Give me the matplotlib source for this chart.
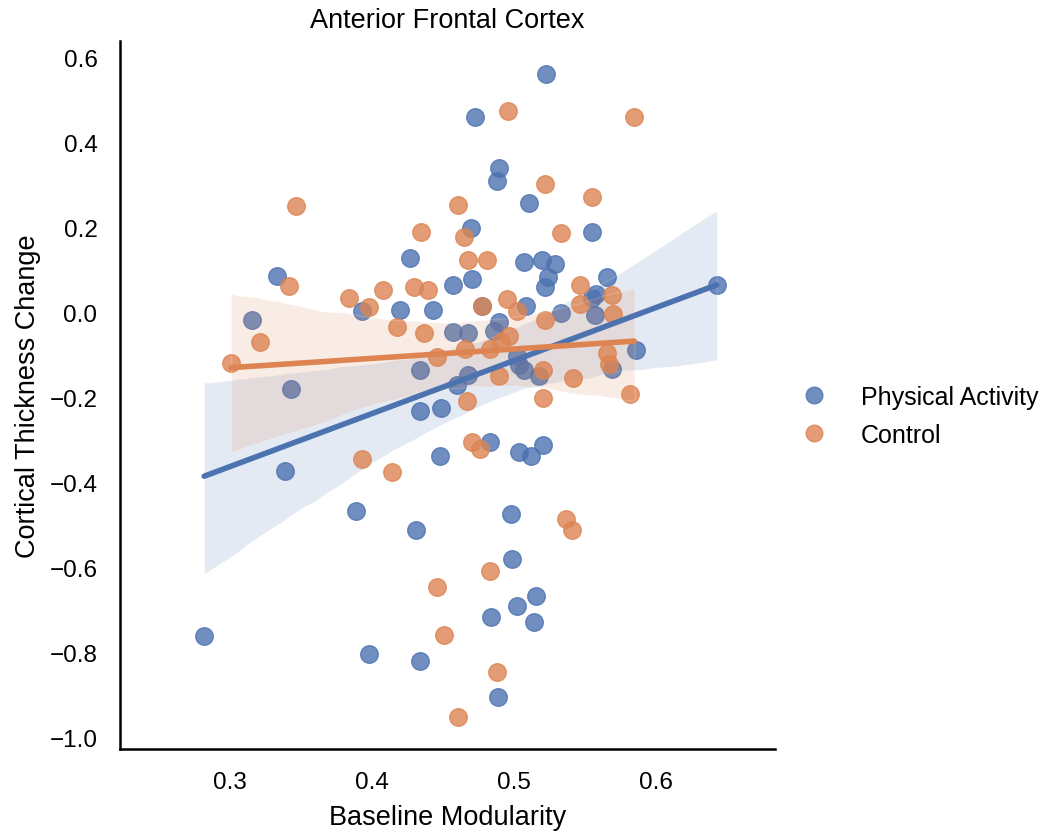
import numpy as np
import pandas as pd
import seaborn as sns
import matplotlib
matplotlib.use("Agg")
import matplotlib.pyplot as plt

# values
pa_x = [0.282, 0.333, 0.316, 0.343, 0.339, 0.389, 0.398, 0.393, 0.420, 0.427,
        0.443, 0.434, 0.434, 0.431, 0.434, 0.449, 0.448, 0.457, 0.457, 0.460,
        0.468, 0.468, 0.470, 0.471, 0.473, 0.478, 0.483, 0.486, 0.490, 0.488,
        0.490, 0.484, 0.489, 0.498, 0.499, 0.502, 0.504, 0.502, 0.504, 0.507,
        0.507, 0.509, 0.511, 0.512, 0.514, 0.516, 0.521, 0.523, 0.520, 0.522,
        0.524, 0.529, 0.518, 0.533, 0.555, 0.566, 0.558, 0.555, 0.557, 0.569,
        0.586, 0.643]
pa_y = [-0.762, 0.085, -0.018, -0.181, -0.373, -0.467, -0.805, 0.003, 0.005, 0.127,
        0.005, -0.137, -0.232, -0.512, -0.820, -0.226, -0.338, 0.064, -0.048, -0.172,
        -0.148, -0.049, 0.197, 0.078, 0.459, 0.015, -0.305, -0.044, 0.340, 0.308,
        -0.024, -0.718, -0.906, -0.475, -0.582, -0.691, -0.329, -0.104, -0.125, -0.136,
        0.117, 0.015, 0.256, -0.338, -0.730, -0.667, -0.313, 0.560, 0.123, 0.060,
        0.082, 0.113, -0.150, -0.002, 0.189, 0.082, 0.042, 0.032, -0.007, -0.133,
        -0.089, 0.064]

ctrl_x = [0.301, 0.321, 0.342, 0.347, 0.384, 0.393, 0.398, 0.408, 0.414, 0.418,
          0.430, 0.435, 0.437, 0.440, 0.446, 0.446, 0.451, 0.461, 0.461, 0.465,
          0.466, 0.467, 0.468, 0.471, 0.476, 0.478, 0.481, 0.483, 0.483, 0.488,
          0.490, 0.491, 0.495, 0.496, 0.497, 0.502, 0.521, 0.521, 0.522, 0.522,
          0.533, 0.537, 0.541, 0.542, 0.547, 0.547, 0.555, 0.566, 0.567, 0.569,
          0.570, 0.582, 0.585]
ctrl_y = [-0.120, -0.070, 0.062, 0.249, 0.032, -0.346, 0.011, 0.052, -0.376, -0.035,
          0.060, 0.189, -0.050, 0.052, -0.105, -0.648, -0.759, 0.251, -0.954, 0.177,
          -0.087, -0.210, 0.122, -0.305, -0.322, 0.015, 0.123, -0.087, -0.609, -0.848,
          -0.150, -0.070, 0.031, 0.472, -0.056, 0.003, -0.136, -0.202, -0.019, 0.302,
          0.186, -0.486, -0.513, -0.155, 0.064, 0.019, 0.271, -0.096, -0.122, 0.040,
          -0.005, -0.192, 0.460]

groups = ["Physical Activity", "Control"]

df = pd.DataFrame({
    "Baseline Modularity": pa_x + ctrl_x,
    "Cortical Thickness Change": pa_y + ctrl_y,
    "group": [groups[0]] * len(pa_x) + [groups[1]] * len(ctrl_x),
})

sns.set_theme(style="white")
plt.rcParams["font.family"] = ["Liberation Sans", "DejaVu Sans"]
plt.rcParams["text.color"] = "black"
plt.rcParams["axes.labelcolor"] = "black"
plt.rcParams["xtick.color"] = "black"
plt.rcParams["ytick.color"] = "black"

colors = sns.color_palette("deep")
fig = plt.figure(figsize=(10.5, 8.37), dpi=100)
ax = fig.add_axes([0.114, 0.104, 0.624, 0.846])

handles = []
for g, c in zip(groups, colors[:2]):
    sub = df[df["group"] == g]
    sns.regplot(data=sub, x="Baseline Modularity", y="Cortical Thickness Change",
                ax=ax, color=c, seed=3, scatter_kws={"s": 160},
                line_kws={"lw": 4})
    handles.append(plt.Line2D([], [], marker="o", ls="", color=c, alpha=0.8,
                              markersize=12, label=g))

ax.set_xlim(0.2225, 0.684)
ax.set_ylim(-1.028, 0.638)
ax.set_xticks([0.3, 0.4, 0.5, 0.6])
ax.set_yticks([0.6, 0.4, 0.2, 0.0, -0.2, -0.4, -0.6, -0.8, -1.0])
ax.tick_params(labelsize=17.5, pad=10)
ax.set_xlabel("Baseline Modularity", fontsize=19.5, labelpad=8)
ax.set_ylabel("Cortical Thickness Change", fontsize=19.5, labelpad=6)
ax.set_title("Anterior Frontal Cortex", fontsize=19.5, pad=10)
sns.despine(ax=ax)
for s in ["left", "bottom"]:
    ax.spines[s].set_color("black")
    ax.spines[s].set_linewidth(1.8)

fig.legend(handles=handles, loc="center left", bbox_to_anchor=(0.730, 0.502),
           frameon=False, fontsize=18, handletextpad=0.88, labelspacing=0.55)

fig.savefig("out.png", dpi=100)
